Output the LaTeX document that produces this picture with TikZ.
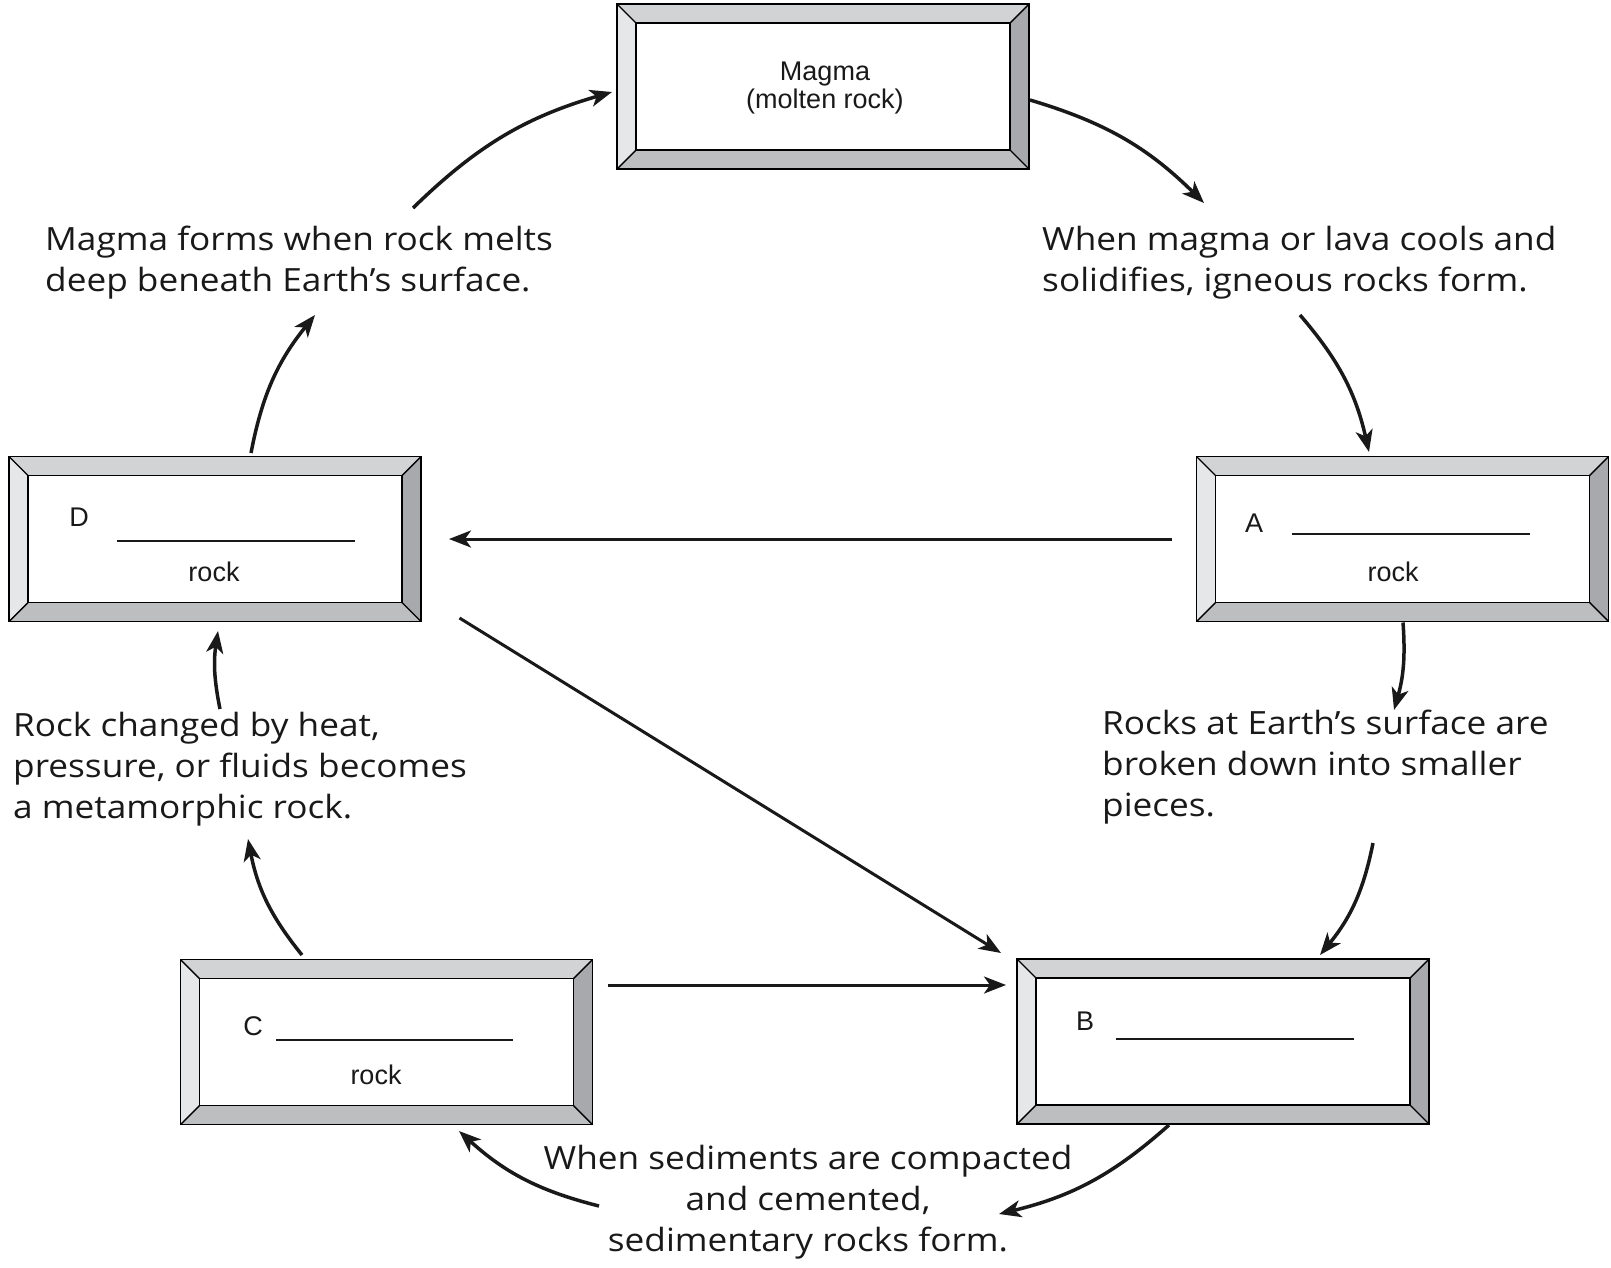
\documentclass[tikz,border=0pt]{standalone}
\usepackage{fontspec}
\setmainfont[FakeStretch=1.10]{Open Sans}
\newfontfamily\boxfont{Liberation Sans}
\usetikzlibrary{arrows.meta,calc}
\definecolor{bvtop}{HTML}{D1D3D4}
\definecolor{bvleft}{HTML}{E6E7E8}
\definecolor{bvright}{HTML}{A7A9AC}
\definecolor{bvbottom}{HTML}{BCBEC0}
\newcommand\bevelframe[1]{%
  \fill[bvtop] (#1.north west) -- (#1.north east) -- ($(#1.north east)+(-19,19)$) -- ($(#1.north west)+(19,19)$) -- cycle;
  \fill[bvbottom] (#1.south west) -- (#1.south east) -- ($(#1.south east)+(-19,-19)$) -- ($(#1.south west)+(19,-19)$) -- cycle;
  \fill[bvleft] (#1.north west) -- (#1.south west) -- ($(#1.south west)+(19,-19)$) -- ($(#1.north west)+(19,19)$) -- cycle;
  \fill[bvright] (#1.north east) -- (#1.south east) -- ($(#1.south east)+(-19,-19)$) -- ($(#1.north east)+(-19,19)$) -- cycle;
  \draw[frameline] (#1.north west) rectangle (#1.south east);
  \draw[frameline] ($(#1.north west)+(19,19)$) rectangle ($(#1.south east)+(-19,-19)$);
  \draw[frameline] (#1.north west) -- ++(19,19);
  \draw[frameline] (#1.north east) -- ++(-19,19);
  \draw[frameline] (#1.south west) -- ++(19,-19);
  \draw[frameline] (#1.south east) -- ++(-19,-19);
}
\begin{document}
\begin{tikzpicture}[x=1pt,y=-1pt,
  rockbox/.style={minimum width=412pt, minimum height=165pt, inner sep=0pt, outer sep=0pt},
  frameline/.style={line width=1.4pt, black},
  boxtxt/.style={font=\boxfont\fontsize{27}{28}\selectfont, inner sep=0pt, text=black!90},
  blankline/.style={line width=1.5pt, black!90},
  desc/.style={font=\fontsize{32}{41}\selectfont, inner sep=0pt, align=left, text=black!90},
  arr/.style={line width=3.5pt, black!90, -{Stealth[length=22pt,width=17pt,inset=6pt]}},
  cyc/.style={arr, bend left=14},
  ]
\useasboundingbox (0,0) rectangle (1611,1267);
\fill[white] (0,0) rectangle (1611,1267);

% boxes
\node[rockbox] (magma) at (823,86.5) {};
\node[rockbox] (D) at (215,539) {};
\node[rockbox] (A) at (1402.5,539) {};
\node[rockbox] (C) at (386.5,1042) {};
\node[rockbox] (B) at (1223,1041.5) {};
\bevelframe{magma}
\bevelframe{D}
\bevelframe{A}
\bevelframe{C}
\bevelframe{B}

% box texts
\node[boxtxt, align=center] (magmatxt) at (825,88.5) {Magma\\(molten rock)};
\node[boxtxt] (Dl) at (79,517) {D};
\draw[blankline] (117,541) -- (355,541);
\node[boxtxt] (Dr) at (214,571.5) {rock};
\node[boxtxt] (Al) at (1254,523) {A};
\draw[blankline] (1292,534) -- (1530,534);
\node[boxtxt] (Ar) at (1393,571.5) {rock};
\node[boxtxt] (Cl) at (253,1026) {C};
\draw[blankline] (276,1040) -- (513,1040);
\node[boxtxt] (Cr) at (376,1075) {rock};
\node[boxtxt] (Bl) at (1085,1021) {B};
\draw[blankline] (1116,1039) -- (1354,1039);

% descriptive texts (anchored at the baseline of their last line)
\node[desc, anchor=base west] (t1) at (45,291) {Magma forms when rock melts\\deep beneath Earth’s surface.};
\node[desc, anchor=base west] (t2) at (1042,291) {When magma or lava cools and\\solidifies, igneous rocks form.};
\node[desc, anchor=base west] (t3) at (13,818) {Rock changed by heat,\\pressure, or fluids becomes\\a metamorphic rock.};
\node[desc, anchor=base west] (t4) at (1102,816) {Rocks at Earth’s surface are\\broken down into smaller\\pieces.};
\node[desc, align=center, anchor=base] (t5) at (808,1251) {When sediments are compacted\\and cemented,\\sedimentary rocks form.};

% free ends near texts
\coordinate (e1) at (413,208);
\coordinate (e2) at (1204,203);
\coordinate (e3) at (1300,315);
\coordinate (e4) at (1394,710);
\coordinate (e5) at (1373,843);
\coordinate (e6) at (999,1214);
\coordinate (e7) at (599,1206);
\coordinate (e8) at (248,839);
\coordinate (e9) at (220,709);
\coordinate (e10) at (315,315);

% cycle arrows
\draw[cyc] (e1) to ($(magma.west)+(-5,5.5)$);
\draw[cyc] ($(magma.east)+(1,13.5)$) to (e2);
\draw[cyc] (e3) to ($(A.north)+(-33.5,-4.5)$);
\draw[cyc, bend left=10] ($(A.south)+(0.5,1)$) to (e4);
\draw[cyc] (e5) to ($(B.north)+(97,-4)$);
\draw[cyc] ($(B.south)+(-54,1)$) to (e6);
\draw[cyc] (e7) to ($(C.south)+(72.5,6.5)$);
\draw[cyc] ($(C.north)+(-84.5,-4.5)$) to (e8);
\draw[cyc, bend left=10] (e9) to ($(D.south)+(3,9.5)$);
\draw[cyc] ($(D.north)+(36,-3.5)$) to (e10);

% straight arrows
\draw[arr, line width=3pt] ($(A.west)+(-24.5,0)$) -- ($(D.east)+(28,0)$);
\draw[arr, line width=3pt] ($(D.south east)+(38.5,-3.5)$) -- ($(B.north west)+(-16,-6)$);
\draw[arr, line width=3pt] ($(C.north east)+(15,25.5)$) -- ($(B.north west)+(-11,26)$);
\end{tikzpicture}
\end{document}
